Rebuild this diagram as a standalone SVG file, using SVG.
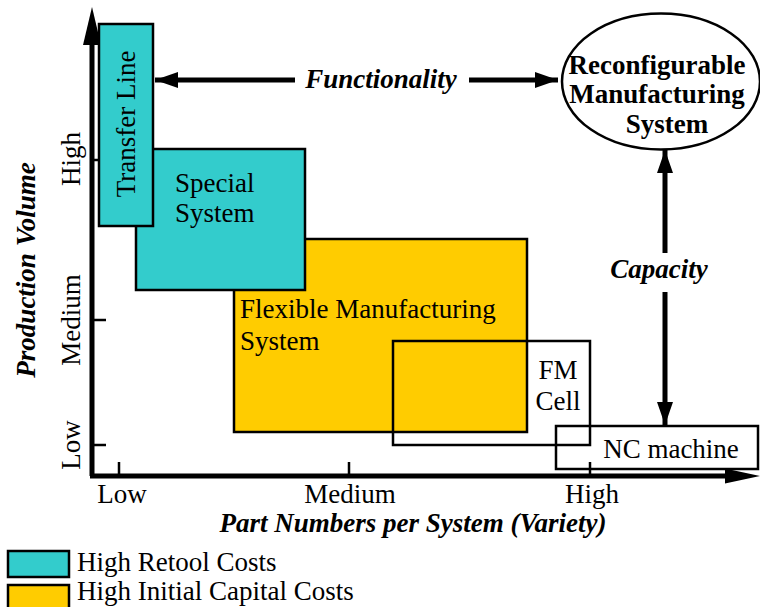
<svg xmlns="http://www.w3.org/2000/svg" width="760" height="607" viewBox="0 0 760 607">
<style>
.t{font-family:"Liberation Serif","Times New Roman",serif;font-size:27px;fill:#000}
.bi{font-family:"Liberation Serif","Times New Roman",serif;font-size:27px;font-weight:bold;font-style:italic;fill:#000}
.b{font-family:"Liberation Serif","Times New Roman",serif;font-size:27px;font-weight:bold;fill:#000}
.box{stroke:#000;stroke-width:2.5}
.teal{fill:#33CCCC}
.yel{fill:#FFCC00}
.ax{stroke:#000;stroke-width:5;fill:none}
.tick{stroke:#000;stroke-width:2.5}
.conn{stroke:#000;stroke-width:5;fill:none}
</style>
<defs>
<marker id="ah" markerUnits="userSpaceOnUse" markerWidth="24" markerHeight="18" refX="23" refY="9" orient="auto" viewBox="0 0 24 18">
<path d="M0,1 L23,9 L0,17 z" fill="#000"/>
</marker>
</defs>
<rect width="760" height="607" fill="#fff"/>

<g id="axes">
<line class="ax" x1="92" y1="40" x2="92" y2="476"/>
<polygon points="92,7 83,45 101,45" fill="#000"/>
<line class="ax" x1="90" y1="476" x2="728" y2="476"/>
<polygon points="760,476 725,468.5 725,483.5" fill="#000"/>
<line class="tick" x1="92" y1="160" x2="106" y2="160"/>
<line class="tick" x1="92" y1="320" x2="106" y2="320"/>
<line class="tick" x1="92" y1="445" x2="106" y2="445"/>
<line class="tick" x1="119" y1="462" x2="119" y2="476"/>
<line class="tick" x1="349" y1="462" x2="349" y2="476"/>
<line class="tick" x1="590" y1="462" x2="590" y2="476"/>
<text class="t" text-anchor="middle" transform="translate(80,159) rotate(-90)">High</text>
<text class="t" text-anchor="middle" transform="translate(80,320) rotate(-90)">Medium</text>
<text class="t" text-anchor="middle" transform="translate(80,445) rotate(-90)">Low</text>
<text class="bi" text-anchor="middle" transform="translate(35,270) rotate(-90)">Production Volume</text>
<text class="t" text-anchor="middle" x="122" y="503">Low</text>
<text class="t" text-anchor="middle" x="350" y="503">Medium</text>
<text class="t" text-anchor="middle" x="592" y="503">High</text>
<text class="bi" text-anchor="middle" x="413" y="532">Part Numbers per System (Variety)</text>
</g>

<g id="fms">
<rect class="box yel" x="234" y="239" width="293" height="193"/>
<text class="t" x="240" y="318">Flexible Manufacturing</text>
<text class="t" x="240" y="350">System</text>
</g>
<g id="special">
<rect class="box teal" x="136" y="149" width="169" height="141"/>
<text class="t" x="175" y="192">Special</text>
<text class="t" x="175" y="222">System</text>
</g>
<g id="transfer">
<rect class="box teal" x="99" y="24" width="54" height="202"/>
<text class="t" text-anchor="middle" transform="translate(135,124) rotate(-90)">Transfer Line</text>
</g>
<g id="fmcell">
<rect class="box" fill="none" x="393" y="341" width="197" height="104"/>
<text class="t" text-anchor="middle" x="558" y="379">FM</text>
<text class="t" text-anchor="middle" x="558" y="410">Cell</text>
</g>
<g id="nc">
<rect class="box" fill="none" x="556" y="426" width="202" height="43"/>
<text class="t" text-anchor="middle" x="671" y="458">NC machine</text>
</g>
<g id="rms">
<ellipse cx="661" cy="81.5" rx="99" ry="68" fill="#fff" stroke="#000" stroke-width="2.5"/>
<text class="b" text-anchor="middle" x="657" y="74">Reconfigurable</text>
<text class="b" text-anchor="middle" x="657" y="103">Manufacturing</text>
<text class="b" text-anchor="middle" x="667" y="133">System</text>
</g>

<g id="connectors">
<line class="conn" x1="295" y1="80" x2="155" y2="80" marker-end="url(#ah)"/>
<line class="conn" x1="469" y1="80" x2="558" y2="80" marker-end="url(#ah)"/>
<text class="bi" text-anchor="middle" x="381" y="88">Functionality</text>
<line class="conn" x1="665" y1="253" x2="665" y2="150" marker-end="url(#ah)"/>
<line class="conn" x1="665" y1="292" x2="665" y2="425" marker-end="url(#ah)"/>
<text class="bi" text-anchor="middle" x="659" y="278">Capacity</text>
</g>

<g id="legend">
<rect class="box teal" x="8" y="551" width="61" height="26" stroke-width="1.5"/>
<rect class="box yel" x="8" y="585" width="61" height="26" stroke-width="1.5"/>
<text class="t" x="77" y="571">High Retool Costs</text>
<text class="t" x="77" y="600">High Initial Capital Costs</text>
</g>
</svg>
